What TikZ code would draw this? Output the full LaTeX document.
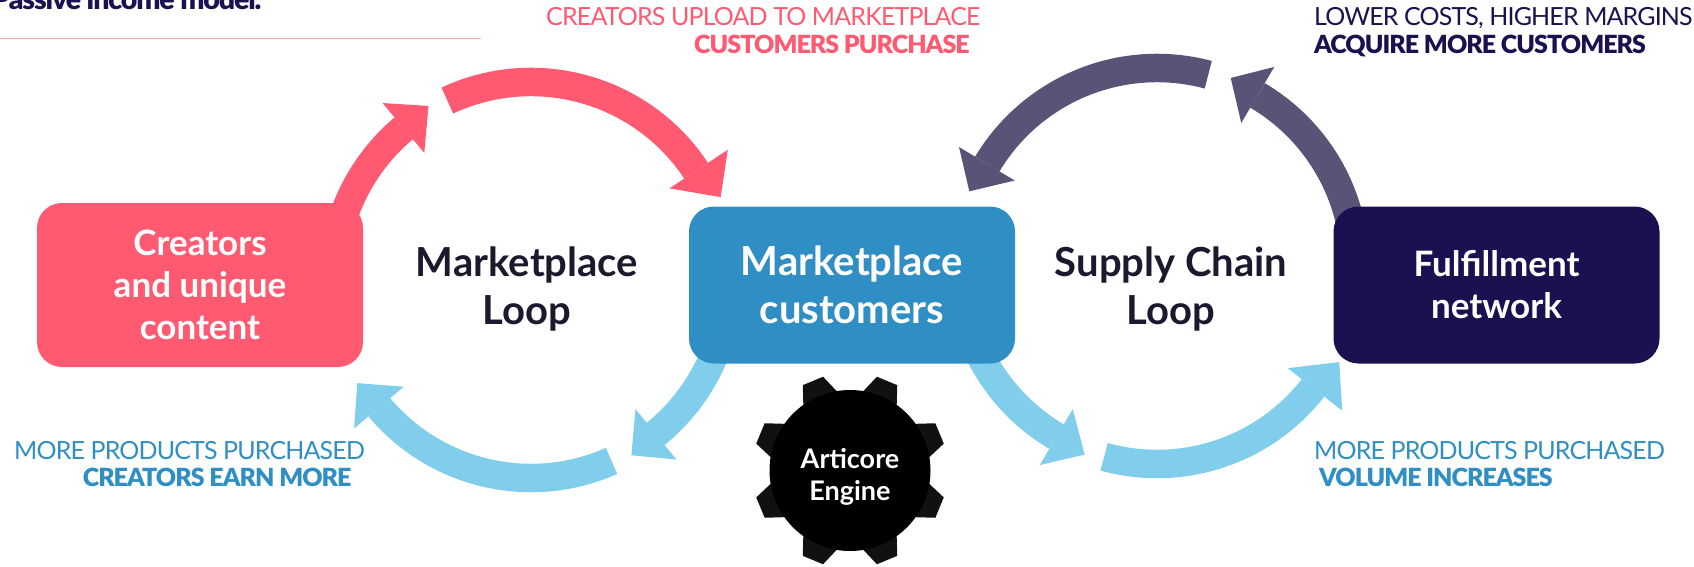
\documentclass[tikz,border=0pt]{standalone}
\usepackage{fontspec}
\setmainfont{Lato}
\newfontfamily\tightfont[LetterSpace=-3.4]{Lato}
\newfontfamily\tightheavy[LetterSpace=-3.9]{Lato Black}
\usetikzlibrary{calc}
\definecolor{pinkc}{HTML}{FF5A71}
\definecolor{rulec}{HTML}{FFA9B5}
\definecolor{bluec}{HTML}{2F8EC4}
\definecolor{skyc}{HTML}{80CEEB}
\definecolor{navyc}{HTML}{1B1150}
\definecolor{slatec}{HTML}{5A5378}
\definecolor{inkc}{HTML}{1A1A2E}
\definecolor{toothc}{HTML}{111111}
\tikzstyle{box}=[rounded corners=25pt,inner sep=0pt,minimum width=326pt,minimum height=157pt,align=center,text=white,font=\fontsize{35}{42}\selectfont\bfseries]
\tikzstyle{looptext}=[inner sep=0pt,align=center,text=inkc,font=\fontsize{40}{48}\selectfont\bfseries]
\tikzstyle{thin}=[inner sep=0pt,anchor=base west,font=\fontsize{25}{25}\tightfont\selectfont]
\tikzstyle{heavy}=[inner sep=0pt,anchor=base west,font=\fontsize{25}{25}\tightheavy\selectfont]
% center, colour, start angle, head base angle, tip angle, outward shift of the head
\newcommand{\looparrow}[6][0]{%
  \draw[line width=28.5pt,#3] ($(#2)+(#4:198pt)$) arc (#4:#5:198pt);
  \fill[#3] ($(#2)+(#6:202pt+#1pt)$) -- ($(#2)+(#5:231pt+#1pt)$) -- ($(#2)+(#5:166pt)$) -- cycle;
}
\begin{document}
\begin{tikzpicture}[x=1pt,y=1pt]
  \useasboundingbox (0,0) rectangle (1694,566);
  \coordinate (loopL) at (531,286);
  \coordinate (loopR) at (1157,300);
  \coordinate (gear) at (850,95.5);
  % left loop
  \looparrow{loopL}{pinkc}{160}{130}{120.5}
  \looparrow[5]{loopL}{pinkc}{115}{33.5}{23.6}
  \looparrow{loopL}{skyc}{-20}{-51}{-60.2}
  \looparrow{loopL}{skyc}{294}{220}{210.7}
  % right loop
  \looparrow{loopR}{slatec}{12}{59.5}{68.6}
  \looparrow{loopR}{slatec}{75}{149}{158.3}
  \looparrow{loopR}{skyc}{205}{239.5}{249}
  \looparrow[4]{loopR}{skyc}{254.5}{322}{332.2}
  % boxes
  \node[box,fill=pinkc,minimum height=164pt] (creators) at (200,281) {Creators\\and unique\\content};
  \node[box,fill=bluec,font=\fontsize{40}{48}\selectfont\bfseries] (customers) at (852,281) {Marketplace\\customers};
  \node[box,fill=navyc] (network) at (1496.5,281) {Fulfillment\\network};
  \node[looptext] (marketloop) at (527,277.5) {Marketplace\\Loop};
  \node[looptext] (supplyloop) at (1171,277.5) {Supply Chain\\Loop};
  % gear
  \foreach \a in {22.5,67.5,...,360}{
    \fill[toothc,rotate around={\a:(gear)}] ($(gear)+(76,-19)$) -- ($(gear)+(97,-11)$) -- ($(gear)+(97,11)$) -- ($(gear)+(76,19)$) -- cycle;
  }
  \fill (gear) circle (80.5);
  \node[inner sep=0pt,align=center,text=white,font=\fontsize{27}{32}\selectfont\bfseries] (engine) at (850,89) {Articore\\Engine};
  % labels
  \node[heavy,text=navyc] (passive) at (-8,556) {\fontsize{28.5}{28.5}\selectfont Passive income model.};
  \draw[rulec,line width=1pt] (0,527)--(481,527);
  \node[thin,text=pinkc] (uploadA) at (546,540) {CREATORS UPLOAD TO MARKETPLACE};
  \node[heavy,text=pinkc] (uploadB) at (694,512.5) {CUSTOMERS PURCHASE};
  \node[thin,text=navyc] (costsA) at (1314,540) {LOWER COSTS, HIGHER MARGINS};
  \node[heavy,text=navyc] (costsB) at (1314,512.5) {ACQUIRE MORE CUSTOMERS};
  \node[thin,text=bluec] (earnA) at (14,107) {MORE PRODUCTS PURCHASED};
  \node[heavy,text=bluec] (earnB) at (82.6,80) {CREATORS EARN MORE};
  \node[thin,text=bluec] (volumeA) at (1314,107) {MORE PRODUCTS PURCHASED};
  \node[heavy,text=bluec] (volumeB) at (1319,80) {VOLUME INCREASES};
\end{tikzpicture}
\end{document}
